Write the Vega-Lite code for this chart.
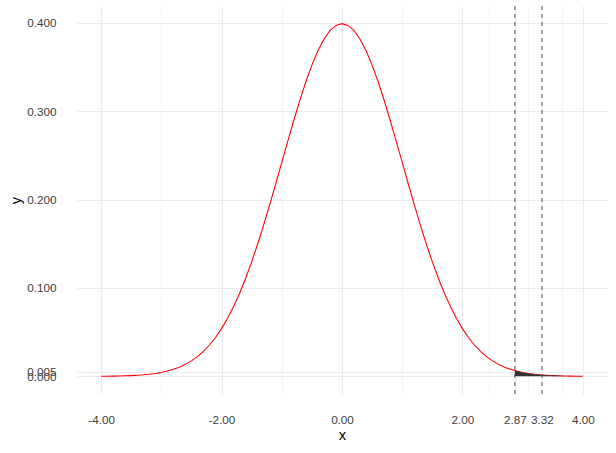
{
  "$schema": "https://vega.github.io/schema/vega-lite/v6.json",
  "width": 530,
  "height": 388,
  "autosize": {"type": "none"},
  "padding": {"left": 77, "top": 6, "right": 9, "bottom": 59},
  "background": "white",
  "config": {
    "view": {"stroke": null},
    "font": "Liberation Sans",
    "axis": {
      "domain": false, "ticks": false, "labelOverlap": false, "labelBound": false, "labelFlush": false,
      "labelFont": "Liberation Sans", "labelFontSize": 11.7, "labelColor": "#3D3D3D",
      "titleFont": "Liberation Sans", "titleFontSize": 14.7, "titleColor": "#000000", "titleFontWeight": "normal",
      "gridColor": "#EBEBEB"
    }
  },
  "datasets": {
    "curve": [
      {"x": -4.0, "y": 0.00013}, {"x": -3.9, "y": 0.00020}, {"x": -3.8, "y": 0.00029}, {"x": -3.7, "y": 0.00042},
      {"x": -3.6, "y": 0.00061}, {"x": -3.5, "y": 0.00087}, {"x": -3.4, "y": 0.00123}, {"x": -3.3, "y": 0.00172},
      {"x": -3.2, "y": 0.00238}, {"x": -3.1, "y": 0.00327}, {"x": -3.0, "y": 0.00443}, {"x": -2.9, "y": 0.00595},
      {"x": -2.8, "y": 0.00792}, {"x": -2.7, "y": 0.01042}, {"x": -2.6, "y": 0.01358}, {"x": -2.5, "y": 0.01753},
      {"x": -2.4, "y": 0.02239}, {"x": -2.3, "y": 0.02833}, {"x": -2.2, "y": 0.03547}, {"x": -2.1, "y": 0.04398},
      {"x": -2.0, "y": 0.05399}, {"x": -1.9, "y": 0.06562}, {"x": -1.8, "y": 0.07895}, {"x": -1.7, "y": 0.09405},
      {"x": -1.6, "y": 0.11092}, {"x": -1.5, "y": 0.12952}, {"x": -1.4, "y": 0.14973}, {"x": -1.3, "y": 0.17137},
      {"x": -1.2, "y": 0.19419}, {"x": -1.1, "y": 0.21785}, {"x": -1.0, "y": 0.24197}, {"x": -0.9, "y": 0.26609},
      {"x": -0.8, "y": 0.28969}, {"x": -0.7, "y": 0.31225}, {"x": -0.6, "y": 0.33322}, {"x": -0.5, "y": 0.35207},
      {"x": -0.4, "y": 0.36827}, {"x": -0.3, "y": 0.38139}, {"x": -0.2, "y": 0.39104}, {"x": -0.1, "y": 0.39695},
      {"x": 0.0, "y": 0.39894},
      {"x": 0.1, "y": 0.39695}, {"x": 0.2, "y": 0.39104}, {"x": 0.3, "y": 0.38139}, {"x": 0.4, "y": 0.36827},
      {"x": 0.5, "y": 0.35207}, {"x": 0.6, "y": 0.33322}, {"x": 0.7, "y": 0.31225}, {"x": 0.8, "y": 0.28969},
      {"x": 0.9, "y": 0.26609}, {"x": 1.0, "y": 0.24197}, {"x": 1.1, "y": 0.21785}, {"x": 1.2, "y": 0.19419},
      {"x": 1.3, "y": 0.17137}, {"x": 1.4, "y": 0.14973}, {"x": 1.5, "y": 0.12952}, {"x": 1.6, "y": 0.11092},
      {"x": 1.7, "y": 0.09405}, {"x": 1.8, "y": 0.07895}, {"x": 1.9, "y": 0.06562}, {"x": 2.0, "y": 0.05399},
      {"x": 2.1, "y": 0.04398}, {"x": 2.2, "y": 0.03547}, {"x": 2.3, "y": 0.02833}, {"x": 2.4, "y": 0.02239},
      {"x": 2.5, "y": 0.01753}, {"x": 2.6, "y": 0.01358}, {"x": 2.7, "y": 0.01042}, {"x": 2.8, "y": 0.00792},
      {"x": 2.9, "y": 0.00595}, {"x": 3.0, "y": 0.00443}, {"x": 3.1, "y": 0.00327}, {"x": 3.2, "y": 0.00238},
      {"x": 3.3, "y": 0.00172}, {"x": 3.4, "y": 0.00123}, {"x": 3.5, "y": 0.00087}, {"x": 3.6, "y": 0.00061},
      {"x": 3.7, "y": 0.00042}, {"x": 3.8, "y": 0.00029}, {"x": 3.9, "y": 0.00020}, {"x": 4.0, "y": 0.00013}
    ],
    "shade": [
      {"x": 2.87, "y": 0.00649}, {"x": 2.9, "y": 0.00595}, {"x": 3.0, "y": 0.00443}, {"x": 3.1, "y": 0.00327},
      {"x": 3.2, "y": 0.00238}, {"x": 3.32, "y": 0.00161}, {"x": 3.4, "y": 0.00123}, {"x": 3.5, "y": 0.00087},
      {"x": 3.6, "y": 0.00061}, {"x": 3.7, "y": 0.00042}
    ],
    "cuts": [{"x": 2.87}, {"x": 3.32}]
  },
  "layer": [
    {
      "data": {"name": "curve"},
      "mark": {"type": "line", "color": "#FF0000", "strokeWidth": 1.07},
      "encoding": {
        "x": {"field": "x", "type": "quantitative", "scale": {"domain": [-4.4, 4.4], "nice": false, "zero": false},
              "axis": {
                "values": [-4, -3, -2, -1, 0, 1, 2, 2.435, 2.87, 3.095, 3.32, 3.66, 4],
                "labelExpr": "(datum.value == -3 || datum.value == -1 || datum.value == 1 || datum.value == 2.435 || datum.value == 3.095 || datum.value == 3.66) ? '' : replace(format(datum.value, '.2f'), '\u2212', '-')",
                "gridWidth": {"condition": {"test": "datum.value == -3 || datum.value == -1 || datum.value == 1 || datum.value == 2.435 || datum.value == 3.095 || datum.value == 3.66", "value": 0.5}, "value": 1},
                "title": "x", "labelPadding": 20, "titlePadding": 2}},
        "y": {"field": "y", "type": "quantitative", "scale": {"domain": [-0.01995, 0.41889], "nice": false, "zero": false},
              "axis": {
                "values": [0, 0.0025, 0.005, 0.0525, 0.1, 0.15, 0.2, 0.25, 0.3, 0.35, 0.4],
                "labelExpr": "(datum.value == 0.0025 || datum.value == 0.0525 || datum.value == 0.15 || datum.value == 0.25 || datum.value == 0.35) ? '' : format(datum.value, '.3f')",
                "gridWidth": {"condition": {"test": "datum.value == 0.0025 || datum.value == 0.0525 || datum.value == 0.15 || datum.value == 0.25 || datum.value == 0.35", "value": 0.5}, "value": 1},
                "title": "y", "labelPadding": 21, "titlePadding": 3}}
      }
    },
    {
      "data": {"name": "shade"},
      "mark": {"type": "area", "color": "#333333"},
      "encoding": {
        "x": {"field": "x", "type": "quantitative"},
        "y": {"field": "y", "type": "quantitative"},
        "y2": {"datum": 0}
      }
    },
    {
      "data": {"name": "cuts"},
      "mark": {"type": "rule", "color": "#555555", "strokeDash": [4, 4], "strokeWidth": 1},
      "encoding": {
        "x": {"field": "x", "type": "quantitative"}
      }
    }
  ]
}
